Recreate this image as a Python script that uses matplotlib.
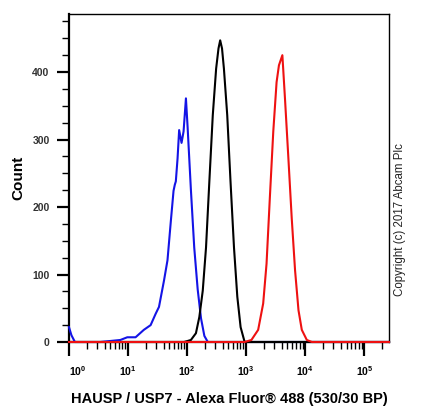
import numpy as np
import matplotlib
matplotlib.use("Agg")
import matplotlib.pyplot as plt
from matplotlib.ticker import LogLocator, MultipleLocator, NullFormatter

plt.rcParams['font.family'] = ['Liberation Sans', 'DejaVu Sans']
plt.rcParams['mathtext.fontset'] = 'custom'
plt.rcParams['mathtext.rm'] = 'Liberation Sans:bold'
plt.rcParams['mathtext.bf'] = 'Liberation Sans:bold'

# --- histogram traces (intensity, count) ---
blue_x = [1.0, 1.1, 1.26, 3.4, 7.4, 9.7, 13.4, 18.5, 24.1, 29.4, 33.4, 40.6, 46.5,
          53.0, 58.9, 61.9, 64.4, 68.9, 73.3, 80.5, 87.1, 95.5, 102, 116, 132,
          151, 172, 196, 224, 262144]
blue_y = [22, 10, 0, 0, 3, 7, 7, 18, 25, 42, 52, 91, 121,
          179, 224, 233, 238, 272, 314, 295, 312, 361, 318, 225, 140,
          78, 35, 9, 0, 0]

black_x = [1.0, 89, 116, 141, 161, 184, 209, 238, 272, 310, 340, 363, 390, 420, 478,
           543, 622, 708, 805, 942, 262144]
black_y = [0, 0, 3, 13, 37, 76, 140, 238, 336, 405, 435, 447, 435, 405, 336,
           238, 140, 67, 22, 0, 0]

red_x = [1.0, 942, 1227, 1596, 1941, 2213, 2518, 2878, 3273, 3589, 4102, 4539,
         5188, 5902, 6730, 7691, 8750, 10640, 12970, 262144]
red_y = [0, 0, 3, 18, 57, 116, 214, 312, 385, 410, 425, 361,
         272, 184, 106, 47, 18, 3, 0, 0]

x_ticks = [1, 10, 100, 1000, 10000, 100000]
x_labels = [r'$10^{0}$', r'$10^{1}$', r'$10^{2}$', r'$10^{3}$', r'$10^{4}$', r'$10^{5}$']
y_ticks = [0, 100, 200, 300, 400]

fig = plt.figure(figsize=(4.24, 4.09), dpi=100)
ax = fig.add_axes([69 / 424, 1 - 342 / 409, 320 / 424, 328 / 409])

ax.plot(blue_x, blue_y, color='#1414e6', lw=1.5, clip_on=False, zorder=3)
ax.plot(black_x, black_y, color='black', lw=1.5, clip_on=False, zorder=3)
ax.plot(red_x, red_y, color='#ee1111', lw=1.5, clip_on=False, zorder=4)

ax.set_xscale('log')
ax.set_xlim(1, 262144)
ax.set_ylim(0, 486)

ax.set_xticks(x_ticks)
ax.set_xticklabels(x_labels)
ax.xaxis.set_minor_locator(LogLocator(base=10, subs=np.arange(2, 10)))
ax.xaxis.set_minor_formatter(NullFormatter())
ax.get_xticklabels()[0].set_horizontalalignment('left')

ax.set_yticks(y_ticks)
ax.yaxis.set_minor_locator(MultipleLocator(25))

ax.tick_params(axis='x', which='major', direction='out', length=10, width=1.6,
               labelsize=7.5, pad=6, colors='black')
ax.tick_params(axis='x', which='minor', direction='out', length=5, width=1.0)
ax.tick_params(axis='y', which='major', direction='out', length=9, width=1.6,
               labelsize=7.5, pad=5)
ax.tick_params(axis='y', which='minor', direction='out', length=5, width=1.0)
for lab in ax.get_yticklabels():
    lab.set_fontweight('bold')
    lab.set_color('#333333')

for s in ax.spines.values():
    s.set_linewidth(1.0)
ax.spines['left'].set_linewidth(1.6)
ax.spines['bottom'].set_linewidth(1.6)

ax.set_xlabel('HAUSP / USP7 - Alexa Fluor® 488 (530/30 BP)', fontsize=10.5,
              fontweight='bold', labelpad=10)
ax.set_ylabel('Count', fontsize=11, fontweight='bold')
ax.yaxis.set_label_coords(-0.135, 0.5)

fig.text(400 / 424, 1 - 220 / 409, 'Copyright (c) 2017 Abcam Plc', rotation=90,
         ha='center', va='center', fontsize=8.3, color='#222222')

fig.savefig('out.png', dpi=100)
